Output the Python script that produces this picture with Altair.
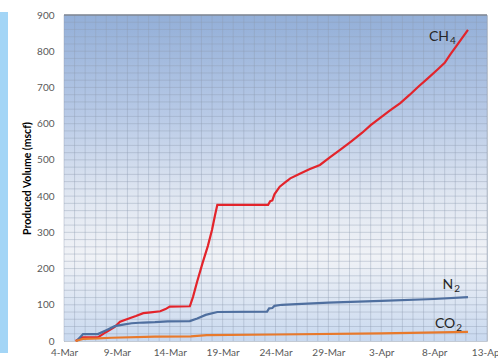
import altair as alt
import pandas as pd

START = "2013-03-04"

# Cumulative produced volume, mscf, against days after 4-Mar
ch4_day = [1.1, 1.7, 3.2, 4.0, 4.8, 5.3, 6.2, 6.8, 7.5, 8.2, 9.1, 9.6, 10.0, 11.9,
           12.2, 12.6, 13.1, 13.6, 14.0, 14.3, 14.5, 19.3, 19.5, 19.7, 19.9, 20.4,
           21.0, 21.4, 22.3, 23.2, 24.2, 25.2, 26.2, 27.2, 28.2, 29.0, 29.9, 30.8, 31.8,
           32.7, 33.5, 34.4, 35.3, 36.0, 36.5, 37.2, 38.2]
ch4_val = [0, 10, 10, 25, 39, 53, 63, 69, 77, 79, 82, 88, 95, 96,
           122, 165, 215, 262, 307, 350, 376, 376, 386, 388, 405, 426,
           440, 449, 462, 474, 486, 508, 530, 552, 575, 596, 616, 636, 657,
           680, 702, 725, 749, 768, 790, 818, 859]

n2_day = [1.2, 1.8, 3.2, 4.0, 4.8, 5.6, 6.4, 7.5, 8.6, 9.8, 11.9, 12.6, 13.4, 14.5,
          19.2, 19.4, 19.7, 19.9, 20.6, 22.0, 25.0, 30.0, 35.0, 38.2]
n2_val = [0, 19, 19, 30, 41, 45, 49, 51, 52, 54, 55, 62, 72, 80,
          81, 90, 91, 97, 100, 102, 106, 111, 116, 121]

co2_day = [1.1, 1.8, 3.2, 4.5, 8.6, 12.0, 13.5, 20.0, 30.0, 38.2]
co2_val = [0, 6, 7, 9, 12, 13, 16, 18, 21, 25]

series_names = ["CH4", "N2", "CO2"]
series_colors = ["#e3242b", "#4f6f9f", "#e8792b"]

# Curve labels: main text with a subscript digit
label_series = ["CH4", "N2", "CO2"]
label_text = ["CH", "N", "CO"]
label_sub = ["4", "2", "2"]
label_day = [36.4, 36.8, 37.0]
label_val = [829, 144, 36]


def to_iso(days):
    ts = pd.Timestamp(START) + pd.to_timedelta(days, unit="D")
    return list(ts.strftime("%Y-%m-%dT%H:%M:%SZ"))


rows = []
for name, days, vals in [("CH4", ch4_day, ch4_val), ("N2", n2_day, n2_val), ("CO2", co2_day, co2_val)]:
    for d, v in zip(to_iso(days), vals):
        rows.append({"series": name, "date": d, "value": v})
lines_df = pd.DataFrame(rows)

labels_df = pd.DataFrame({
    "series": label_series,
    "text": label_text,
    "sub": label_sub,
    "date": to_iso(label_day),
    "value": label_val,
})

daily = pd.date_range(START, periods=41, freq="D")
tick_days = daily[::5]
tick_values = [alt.DateTime(year=t.year, month=t.month, date=t.day, utc=True) for t in tick_days]

# Gridline positions: one per day, one per 20 mscf
vgrid_df = pd.DataFrame({"date": list(daily.strftime("%Y-%m-%dT00:00:00Z"))})
hgrid_df = pd.DataFrame({"value": list(range(20, 901, 20))})

FONT = "Lato"
W, H = 423, 326
GRID = "#8d9bb0"

x_scale = alt.Scale(type="utc", domain=[tick_values[0], tick_values[-1]], nice=False)
x_axis = alt.Axis(
    values=tick_values,
    format="%-d-%b",
    labelOverlap=False,
    labelFlush=False,
    ticks=False,
    domain=False,
    grid=False,
    title=None,
    labelColor="#595959",
    labelFont=FONT,
    labelFontSize=10,
    labelPadding=6,
)
y_scale = alt.Scale(domain=[0, 900], nice=False)
y_axis = alt.Axis(
    values=list(range(0, 901, 100)),
    labelOverlap=False,
    ticks=False,
    domain=True,
    domainColor="#a3abb5",
    grid=False,
    title="Produced Volume (mscf)",
    titleFont=FONT,
    titleFontSize=10.5,
    titleFontWeight="bold",
    titleColor="#000000",
    titlePadding=4,
    labelColor="#595959",
    labelFont=FONT,
    labelFontSize=10,
    labelPadding=10,
)


def xe():
    return alt.X("date:T", scale=x_scale, axis=x_axis)


def ye():
    return alt.Y("value:Q", scale=y_scale, axis=y_axis)


color_enc = alt.Color(
    "series:N",
    scale=alt.Scale(domain=series_names, range=series_colors),
    legend=None,
)

one = pd.DataFrame({"k": [0]})

bg_gradient = alt.Gradient(
    gradient="linear",
    x1=0, y1=0, x2=0, y2=1,
    stops=[
        alt.GradientStop(offset=0.0, color="#93afd8"),
        alt.GradientStop(offset=0.3, color="#b7c9e6"),
        alt.GradientStop(offset=0.55, color="#dfe6f1"),
        alt.GradientStop(offset=0.74, color="#f0f2f6"),
        alt.GradientStop(offset=1.0, color="#c9d9ef"),
    ],
)

background = alt.Chart(one).mark_rect(color=bg_gradient).encode(
    x=alt.value(0), x2=alt.value(W), y=alt.value(0), y2=alt.value(H)
)

vgrid = alt.Chart(vgrid_df).mark_rule(color=GRID, strokeWidth=1, opacity=0.38).encode(
    x=xe(), y=alt.value(0), y2=alt.value(H)
)
hgrid = alt.Chart(hgrid_df).mark_rule(color=GRID, strokeWidth=1, opacity=0.38).encode(
    y=ye(), x=alt.value(0), x2=alt.value(W)
)

lines = alt.Chart(lines_df).mark_line(strokeWidth=2.2).encode(
    x=xe(), y=ye(), color=color_enc
)

main_text = alt.Chart(labels_df).mark_text(
    align="right", baseline="alphabetic", font=FONT, fontSize=14, color="#262626"
).encode(x=xe(), y=ye(), text="text:N")

sub_text = alt.Chart(labels_df).mark_text(
    align="left", baseline="alphabetic", font=FONT, fontSize=10, dx=1, dy=3, color="#262626"
).encode(x=xe(), y=ye(), text="sub:N")

# Dark rule along the top edge of the plot area
top_rule = alt.Chart(one).mark_rule(color="#7f8793", strokeWidth=1.5).encode(
    x=alt.value(0), x2=alt.value(W), y=alt.value(0)
)

# Light-blue strip down the left side of the figure
strip = alt.Chart(one).mark_rect(color="#a3d5f6").encode(
    x=alt.value(-64), x2=alt.value(-56), y=alt.value(-3), y2=alt.value(H + 12)
)

chart = (
    alt.layer(strip, background, vgrid, hgrid, lines, main_text, sub_text, top_rule)
    .properties(
        width=W,
        height=H,
        autosize=alt.AutoSizeParams(type="none"),
        padding={"left": 64, "top": 15, "right": 11, "bottom": 19},
        background="#ffffff",
    )
    .configure_view(stroke="#c3cad3", strokeWidth=1)
)

chart.save("out.html", embed_options={"renderer": "svg", "actions": False})
